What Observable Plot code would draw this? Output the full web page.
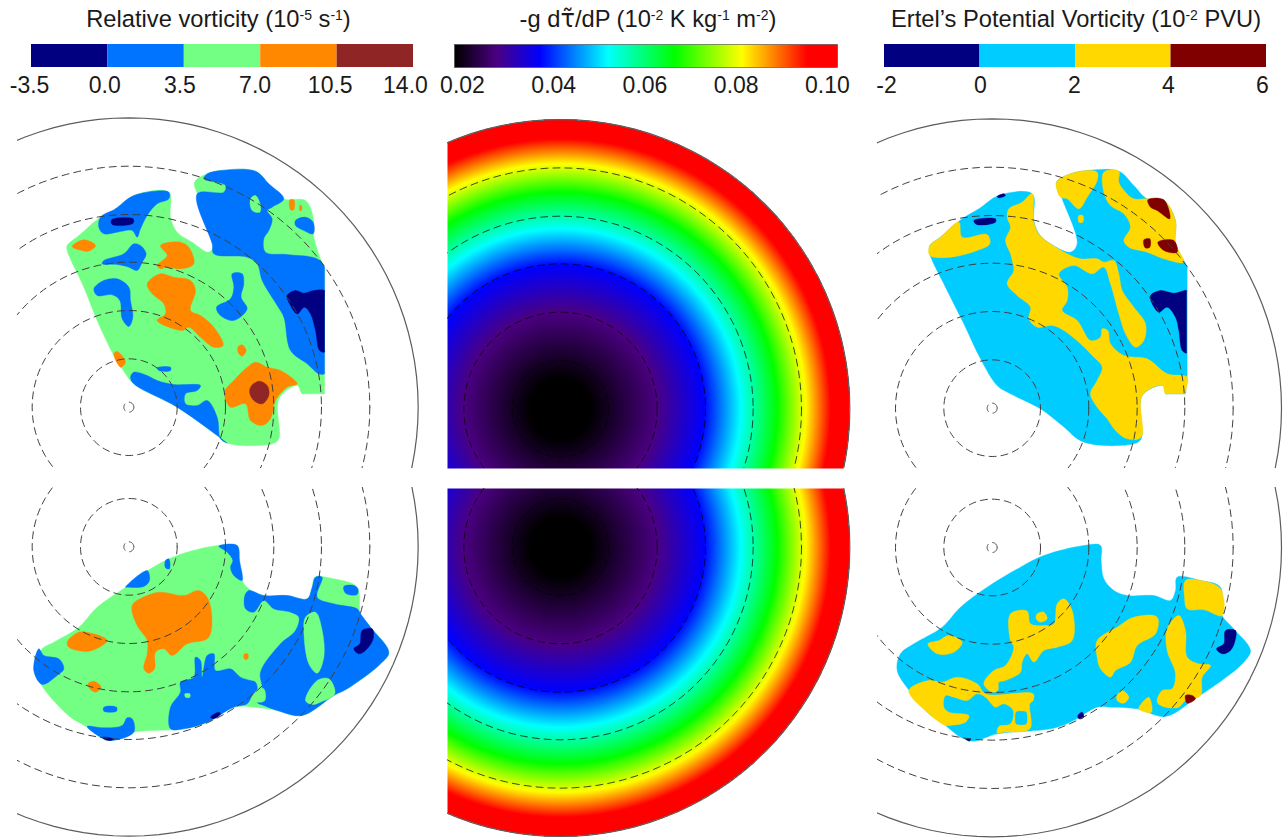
<!DOCTYPE html>
<html>
<head>
<meta charset="utf-8">
<script src="https://cdn.jsdelivr.net/npm/d3@7"></script>
<script src="https://cdn.jsdelivr.net/npm/@observablehq/plot@0.6"></script>
<style>
html,body{margin:0;padding:0;background:#fff;}
#page{position:relative;width:1284px;height:839px;overflow:hidden;font-family:"Liberation Sans",Arial,sans-serif;color:#1a1a1a;}
#page svg{position:absolute;overflow:visible;background:transparent;}
.ttl{position:absolute;top:6px;font-size:23.7px;line-height:26px;white-space:nowrap;transform:translateX(-50%);}
.ttl sup{font-size:14px;line-height:0;vertical-align:7px;}
.tau{font-family:"DejaVu Sans",sans-serif;font-size:24px;}
</style>
</head>
<body>
<div id="page"></div>
<script>
// ---------- legend data ----------
const vortEdges = [-3.5, 0, 3.5, 7, 10.5, 14];
const vortColors = ["#000080", "#0073ff", "#73ff84", "#ff8800", "#8f2525"];
const vortTicks = [-3.5, 0, 3.5, 7, 10.5, 14];
const heatStops = [0.02, 0.0288, 0.03784, 0.052, 0.066, 0.08, 0.0936, 0.10];
const heatColors = ["#000000", "#4b0082", "#0000ff", "#00ffff", "#00ff00", "#ffff00", "#ff0000", "#ff0000"];
const heatTicks = [0.02, 0.04, 0.06, 0.08, 0.10];
const pvEdges = [-2, 0, 2, 4, 6];
const pvColors = ["#000080", "#00ccff", "#ffd800", "#800000"];
const pvTicks = [-2, 0, 2, 4, 6];

// ---------- map graticule (map units from the pole) ----------
const ringRadii = [15, 145, 290, 435, 578, 723];
const rimRadius = 868;

// ---------- heating profile: distance from pole -> value ----------
const profileR = [0, 90, 290, 430, 540, 650, 735, 810, 870];
const profileV = [0.02, 0.02, 0.0288, 0.03784, 0.052, 0.066, 0.08, 0.0936, 0.10];

// ---------- region polygons: [class value, vertices in map grid units] ----------
const vortUpper = [
 [5,[[200,405],[235,375],[300,320],[340,300],[400,255],[505,245],[510,320],[530,365],[575,395],[625,425],[640,400],[590,250],[582,215],[620,190],[660,180],[765,182],[805,220],[850,265],[915,270],[938,320],[938,370],[960,445],[972,470],[972,480],[972,840],[972,850],[960,850],[915,850],[905,850],[890,825],[835,865],[835,985],[815,1000],[680,998],[650,975],[530,890],[400,820],[365,775],[340,735],[290,630],[250,530],[200,420]]],
 [2,[[300,320],[345,295],[400,255],[505,245],[505,265],[470,280],[440,315],[420,355],[410,380],[395,360],[350,365],[310,370],[295,350]]],
 [-2,[[333,328],[398,325],[398,338],[335,342]]],
 [2,[[310,450],[370,430],[400,400],[420,405],[437,430],[425,455],[410,480],[385,470],[350,462],[305,460]]],
 [2,[[280,535],[310,510],[350,505],[385,530],[390,570],[397,620],[385,648],[365,625],[358,570],[335,553],[290,555]]],
 [2,[[695,490],[725,490],[730,520],[722,560],[740,595],[700,630],[660,615],[648,590],[690,565],[700,530]]],
 [2,[[620,190],[660,180],[765,182],[805,220],[850,265],[815,290],[800,300],[815,325],[805,360],[790,385],[795,425],[860,432],[950,445],[972,470],[972,480],[972,780],[972,790],[955,790],[920,760],[870,720],[850,620],[830,585],[785,510],[770,460],[740,440],[640,430],[635,400],[590,250],[670,245],[675,225],[610,205]]],
 [5,[[750,265],[765,255],[780,285],[778,305],[755,300]]],
 [2,[[885,330],[915,320],[938,335],[938,370],[910,360],[885,345]]],
 [9,[[868,268],[880,268],[880,298],[870,298]]],
 [9,[[898,285],[903,285],[903,300],[898,300]]],
 [-2,[[860,555],[885,540],[910,548],[940,540],[972,540],[972,548],[972,716],[972,725],[957,720],[945,660],[930,610],[912,590],[890,610],[870,585]]],
 [9,[[215,408],[250,388],[285,405],[265,422],[235,418]]],
 [9,[[480,405],[540,395],[565,410],[580,460],[545,475],[497,470],[480,475],[470,465],[500,435]]],
 [9,[[440,520],[480,490],[520,500],[570,510],[585,540],[570,600],[600,615],[640,650],[668,705],[640,710],[600,680],[565,650],[545,660],[470,630],[495,610],[490,580],[455,550]]],
 [9,[[712,710],[725,703],[737,720],[725,737],[715,730]]],
 [9,[[340,730],[350,723],[375,755],[360,770]]],
 [9,[[735,775],[765,755],[800,770],[840,780],[890,820],[860,830],[825,870],[810,925],[785,945],[750,930],[735,880],[690,890],[672,845],[700,810]]],
 [12,[[750,830],[775,812],[800,825],[805,855],[785,880],[760,870],[748,850]]],
 [2,[[390,800],[400,785],[440,795],[470,810],[520,822],[600,825],[590,840],[555,850],[555,880],[590,885],[620,870],[650,920],[660,985],[680,998],[650,975],[530,890],[400,820]]],
 [2,[[470,772],[510,770],[510,780],[475,780]]]
];
const vortLower = [
 [5,[[100,570],[125,505],[160,485],[235,440],[290,380],[375,320],[450,265],[530,225],[650,195],[710,195],[717,240],[725,300],[745,325],[790,345],[860,345],[920,355],[935,320],[943,290],[1000,295],[1070,320],[1080,400],[1110,440],[1165,515],[1140,550],[1040,625],[1000,645],[905,705],[830,690],[760,680],[700,680],[620,725],[550,745],[400,755],[330,780],[300,770],[260,740],[210,710],[150,650],[120,610]]],
 [2,[[100,570],[115,505],[130,525],[175,535],[190,565],[170,585],[125,612]]],
 [2,[[655,197],[710,195],[717,240],[725,300],[700,285],[690,260],[697,240],[680,215]]],
 [2,[[375,320],[440,270],[447,300],[430,318],[380,320]]],
 [2,[[495,240],[505,235],[507,265],[495,262]]],
 [2,[[733,345],[745,330],[790,345],[860,345],[920,355],[935,320],[945,290],[965,290],[950,350],[1000,370],[1070,385],[1080,400],[1110,440],[1165,515],[1140,550],[1040,625],[1000,645],[905,705],[830,690],[790,675],[770,665],[785,625],[780,575],[840,490],[885,450],[895,410],[870,395],[820,385],[790,360],[760,395],[735,385]]],
 [5,[[915,410],[945,395],[965,450],[970,530],[950,578],[925,550],[910,450]]],
 [5,[[915,660],[950,600],[985,595],[1003,640],[960,665],[935,672]]],
 [5,[[755,645],[770,625],[790,625],[793,660],[770,665],[750,655]]],
 [2,[[1030,318],[1060,315],[1072,325],[1070,342],[1035,338]]],
 [-2,[[1085,450],[1115,445],[1118,475],[1095,510],[1075,520],[1060,505],[1078,490]]],
 [2,[[510,680],[540,635],[540,605],[580,590],[585,530],[600,540],[605,590],[620,525],[640,520],[645,570],[690,565],[720,590],[750,600],[765,605],[770,625],[755,645],[740,670],[700,680],[620,725],[550,745],[510,745]]],
 [5,[[553,640],[568,640],[568,650],[555,650]]],
 [-2,[[630,710],[655,695],[660,700],[640,715]]],
 [2,[[260,738],[310,742],[365,735],[380,712],[395,715],[400,755],[330,780],[300,770]]],
 [-2,[[305,770],[340,775],[330,780],[315,778]]],
 [2,[[310,680],[348,680],[348,692],[310,692]]],
 [9,[[200,485],[235,455],[280,460],[320,480],[275,510],[245,512],[205,500]]],
 [9,[[395,375],[440,345],[480,335],[550,345],[595,330],[625,360],[625,470],[560,490],[515,525],[490,505],[465,515],[462,565],[445,578],[430,565],[440,520],[440,480],[410,435]]],
 [9,[[262,610],[280,602],[302,620],[285,635],[268,625]]],
 [9,[[730,522],[742,520],[742,535],[733,537]]]
];
const pvUpper = [
 [1,[[178,405],[210,380],[275,325],[325,295],[385,255],[485,250],[490,330],[505,370],[540,400],[600,425],[620,400],[575,265],[558,215],[600,190],[650,180],[745,182],[790,225],[830,265],[880,270],[915,330],[915,400],[950,470],[950,480],[950,785],[950,795],[946,840],[945,850],[935,850],[895,850],[885,850],[880,825],[815,855],[812,985],[790,1000],[640,995],[575,945],[510,895],[420,850],[380,825],[330,745],[280,640],[225,530],[178,430]]],
 [3,[[178,405],[210,380],[265,335],[275,380],[350,372],[358,400],[320,420],[240,440],[178,435]]],
 [3,[[415,295],[455,275],[485,250],[490,335],[505,372],[540,400],[590,430],[630,445],[680,445],[700,455],[730,450],[745,490],[755,540],[790,590],[825,640],[820,690],[795,710],[765,670],[745,610],[720,520],[700,470],[665,490],[610,465],[565,490],[590,530],[590,570],[575,600],[620,630],[660,690],[690,680],[695,655],[712,660],[720,700],[760,735],[830,745],[890,790],[950,800],[946,840],[945,850],[935,850],[895,850],[885,850],[875,825],[815,855],[812,980],[770,985],[735,960],[710,925],[680,890],[660,850],[680,810],[695,770],[665,735],[630,700],[580,660],[545,645],[500,650],[475,625],[480,590],[440,555],[410,520],[430,480],[425,450],[420,430],[405,390],[420,350],[410,320]]],
 [3,[[558,215],[600,190],[650,180],[680,185],[680,210],[650,260],[625,295],[590,265],[570,260]]],
 [3,[[625,315],[637,315],[637,335],[625,335]]],
 [3,[[700,185],[745,182],[745,215],[765,245],[790,265],[830,265],[880,270],[915,330],[915,400],[940,455],[880,445],[830,425],[775,410],[760,390],[780,350],[760,310],[720,285],[700,245]]],
 [5,[[832,268],[880,268],[898,325],[860,300],[840,290]]],
 [5,[[862,395],[910,390],[920,425],[880,420]]],
 [5,[[820,388],[838,385],[838,410],[824,412]]],
 [-1,[[840,555],[870,540],[910,548],[948,540],[948,548],[948,720],[948,728],[935,720],[925,660],[915,620],[890,590],[865,605],[845,580]]],
 [-1,[[310,330],[375,325],[375,335],[318,342]]],
 [-1,[[380,258],[400,250],[405,255],[385,262]]]
];
const pvLower = [
 [1,[[80,570],[90,520],[130,490],[215,440],[270,380],[350,320],[450,260],[520,225],[640,195],[690,195],[692,240],[700,295],[730,330],[770,345],[850,345],[900,360],[915,330],[920,290],[990,300],[1050,320],[1055,405],[1085,440],[1140,510],[1120,545],[1040,610],[980,650],[885,708],[800,685],[720,680],[680,680],[600,725],[540,745],[380,760],[310,782],[270,770],[225,735],[170,695],[120,635]]],
 [3,[[945,300],[990,300],[1050,325],[1055,405],[1000,388],[950,385],[942,350]]],
 [3,[[205,480],[235,465],[275,485],[250,515],[200,520],[172,490]]],
 [3,[[420,400],[470,392],[480,430],[520,435],[550,430],[560,370],[580,355],[605,390],[605,480],[560,500],[520,510],[490,545],[470,520],[455,545],[450,575],[405,600],[385,605],[382,630],[365,635],[340,610],[370,570],[405,555],[430,500],[420,480]]],
 [3,[[500,400],[520,395],[530,415],[510,425],[497,415]]],
 [3,[[115,630],[175,600],[215,605],[260,590],[320,610],[345,640],[488,640],[488,660],[478,670],[478,745],[400,755],[380,757],[385,738],[420,730],[428,690],[400,670],[375,680],[345,650],[320,640],[290,660],[250,650],[225,645],[220,680],[235,695],[295,705],[285,725],[235,735],[225,735],[170,695]]],
 [1,[[437,695],[442,693],[462,693],[467,695],[469,700],[469,725],[467,730],[462,732],[442,732],[437,730],[435,725],[435,700]]],
 [3,[[680,480],[740,440],[790,410],[860,410],[855,460],[800,495],[780,545],[735,570],[720,590],[690,565],[680,530]]],
 [3,[[890,445],[925,405],[945,450],[950,530],[985,550],[1020,555],[995,590],[990,645],[945,660],[925,680],[885,680],[860,665],[875,630],[905,625],[915,580],[890,510]]],
 [3,[[738,650],[755,630],[775,650],[760,668],[742,662]]],
 [3,[[805,685],[835,650],[843,695]]],
 [5,[[945,645],[965,645],[975,655],[950,668]]],
 [-1,[[1065,450],[1095,450],[1095,475],[1080,510],[1055,520],[1038,505],[1060,490]]],
 [-1,[[622,705],[635,695],[640,710],[625,715]]],
 [-1,[[285,775],[300,775],[297,782]]]
];

// ---------- helpers ----------
const page = document.getElementById("page");
const font = '"Liberation Sans",Arial,sans-serif';
function place(svg, left, top) {
  svg.style.left = left + "px"; svg.style.top = top + "px";
  page.appendChild(svg);
}
function title(html, cx) {
  const d = document.createElement("div");
  d.className = "ttl"; d.style.left = cx + "px"; d.innerHTML = html;
  page.appendChild(d);
}
const mids = e => e.slice(0, -1).map((d, i) => ({x1: d, x2: e[i + 1], v: (d + e[i + 1]) / 2}));
const thresholdColor = (edges, colors) => ({type: "threshold", domain: edges.slice(1, -1), range: colors});
const heatColor = {type: "linear", domain: heatStops, range: heatColors, interpolate: "rgb", clamp: true};

function legend({left, right, domain, ticks, format, shiftLo, shiftHi, color, marks}) {
  const lo = domain[0], hi = domain[1];
  const pad = 40;
  const labelAt = d => d + shiftLo * (hi - d) / (hi - lo) + shiftHi * (d - lo) / (hi - lo);
  const svg = Plot.plot({
    width: right - left + 2 * pad, height: 60,
    marginLeft: pad, marginRight: pad, marginTop: 0, marginBottom: 37,
    x: {domain, axis: null}, y: {domain: [0, 1], axis: null}, color,
    style: {background: "transparent", fontFamily: font},
    marks: [
      ...marks,
      Plot.text(ticks, {x: labelAt, y: () => 0, text: format, dy: 18, fontSize: 23, fill: "#1a1a1a"})
    ]
  });
  place(svg, left - pad, 44);
}

function ringRows(poleX, poleY, radii) {
  const rows = [];
  radii.forEach(R => {
    for (let a = 0; a <= 360; a += 3) {
      const t = a * Math.PI / 180;
      rows.push({R, x: poleX + R * Math.cos(t), y: poleY + R * Math.sin(t)});
    }
  });
  return rows;
}
function graticule(poleX, poleY, dash, dashOpacity) {
  return [
    Plot.line(ringRows(poleX, poleY, ringRadii), {x: "x", y: "y", z: "R", stroke: dash, strokeOpacity: dashOpacity, strokeWidth: 1, strokeDasharray: "7,5", clip: true}),
    Plot.line(ringRows(poleX, poleY, [rimRadius]), {x: "x", y: "y", z: "R", stroke: "#5c5c5c", strokeWidth: 1.2, clip: true})
  ];
}
function flatten(polys) {
  const rows = [];
  polys.forEach(([v, pts], id) => pts.forEach(([x, y]) => rows.push({id, v, x, y})));
  return rows;
}
function mapPanel({left, top, width, height, xd, yd, pole, polys, color, extra, dash = "#404040", dashOpacity = 1}) {
  const marks = [];
  if (polys) marks.push(Plot.line(flatten(polys), {x: "x", y: "y", z: "id", fill: "v", stroke: "v", strokeWidth: 0.4, curve: "catmull-rom-closed", clip: true}));
  if (extra) marks.push(...extra);
  marks.push(...graticule(pole[0], pole[1], dash, dashOpacity));
  const svg = Plot.plot({
    width, height, margin: 0,
    x: {domain: xd, range: [0, width], axis: null},
    y: {domain: yd, range: [0, height], axis: null},
    color,
    style: {background: "transparent"},
    marks
  });
  place(svg, left, top);
}
function heatRaster(pole, xd, yd, width, height) {
  const rToV = d3.scaleLinear(profileR, profileV).clamp(true);
  return Plot.raster({
    x1: xd[0], x2: xd[1], y1: yd[0], y2: yd[1], width, height, pixelSize: 1,
    fill: (x, y) => {
      const r = Math.hypot(x - pole[0], y - pole[1]);
      return r > rimRadius ? NaN : rToV(r);
    },
    imageRendering: "auto"
  });
}

// ---------- titles ----------
title('Relative vorticity (10<sup>-5</sup> s<sup>-1</sup>)', 218.5);
title('-g d<span class="tau">\u03C4\u0303</span>/dP (10<sup>-2</sup> K kg<sup>-1</sup> m<sup>-2</sup>)', 648);
title('Ertel\u2019s Potential Vorticity (10<sup>-2</sup> PVU)', 1076);

// ---------- legends ----------
const bands = e => Plot.rect(mids(e), {x1: "x1", x2: "x2", y1: () => 0, y2: () => 1, fill: "v"});
legend({left: 31, right: 413, domain: [-3.5, 14], ticks: vortTicks, format: d => d.toFixed(1),
  shiftLo: -0.09, shiftHi: -0.37, color: thresholdColor(vortEdges, vortColors), marks: [bands(vortEdges)]});
legend({left: 454, right: 837, domain: [0.02, 0.10], ticks: heatTicks, format: d => d.toFixed(2),
  shiftLo: 0.00167, shiftHi: -0.0021, color: heatColor,
  marks: [
    Plot.raster({x1: 0.02, x2: 0.10, y1: 0, y2: 1, width: 383, height: 2, pixelSize: 1, fill: x => x}),
    Plot.frame({stroke: "#444", strokeWidth: 0.6})
  ]});
legend({left: 884, right: 1266, domain: [-2, 6], ticks: pvTicks, format: d => String(d),
  shiftLo: 0.042, shiftHi: -0.084, color: thresholdColor(pvEdges, pvColors), marks: [bands(pvEdges)]});

// ---------- panels ----------
const vColor = thresholdColor(vortEdges, vortColors);
const pColor = thresholdColor(pvEdges, pvColors);
mapPanel({left: 17, top: 110, width: 413, height: 358, xd: [51, 1290], yd: [0, 1074], pole: [385, 890], polys: vortUpper, color: vColor});
mapPanel({left: 17, top: 487, width: 413, height: 352, xd: [51, 1290], yd: [21, 1077], pole: [385, 199], polys: vortLower, color: vColor});
mapPanel({left: 877, top: 110, width: 407, height: 358, xd: [21, 1242], yd: [0, 1074], pole: [365, 893], polys: pvUpper, color: pColor});
mapPanel({left: 877, top: 487, width: 407, height: 352, xd: [21, 1242], yd: [21, 1077], pole: [365, 201], polys: pvLower, color: pColor});
const cuX = [21, 1260], cuY = [-3, 1044], clY = [54, 1107];
mapPanel({left: 447, top: 119, width: 413, height: 349, xd: cuX, yd: cuY, pole: [360, 865], color: heatColor, dash: "#000", dashOpacity: 0.7,
  extra: [heatRaster([360, 865], cuX, cuY, 413, 349)]});
mapPanel({left: 447, top: 488, width: 413, height: 351, xd: cuX, yd: clY, pole: [360, 230], color: heatColor, dash: "#000", dashOpacity: 0.7,
  extra: [heatRaster([360, 230], cuX, clY, 413, 351)]});
</script>
</body>
</html>
